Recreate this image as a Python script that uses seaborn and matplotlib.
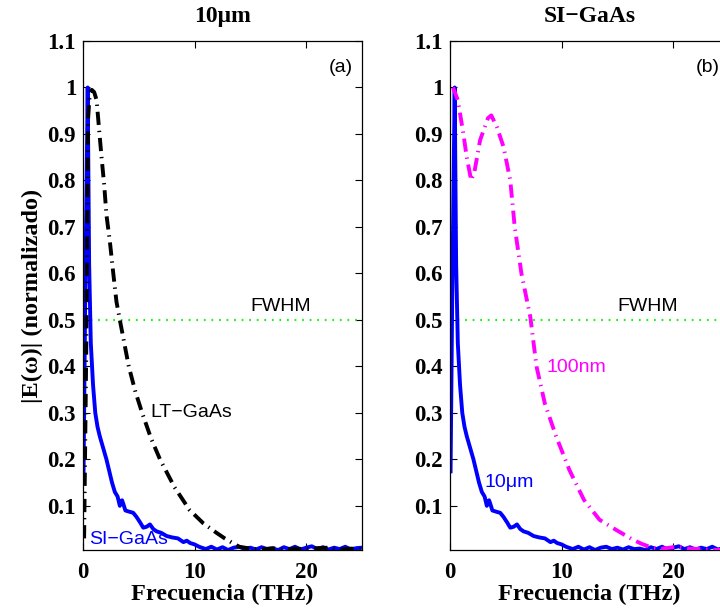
import numpy as np
import pandas as pd
import seaborn as sns
import matplotlib
matplotlib.use("Agg")
import matplotlib.pyplot as plt

# Spectrum of the 10 um SI-GaAs antenna (normalized |E(w)|)
si_freq = [0.05, 0.2, 0.42, 0.55, 0.7, 0.9, 1.1, 1.3, 1.5, 1.8, 2.1, 2.4, 2.6,
           2.85, 3.1, 3.3, 3.5, 3.6, 3.8, 4.2, 4.5, 4.8, 5.1, 5.4, 5.7, 6.0,
           6.3, 6.6, 7.0, 7.5, 8.0, 8.5, 9.0, 9.3, 9.6, 10.0, 10.4, 11.0,
           11.5, 12.0, 12.5, 13.0, 13.5, 14.0, 14.5, 15.0, 15.5, 16.0, 16.5,
           17.0, 17.5, 18.0, 18.5, 19.0, 19.5, 20.0, 20.5, 21.0, 21.5, 22.0,
           22.5, 23.0, 23.5, 24.0, 24.5, 25.0]
si_amp = [0.17, 0.55, 1.0, 0.62, 0.45, 0.36, 0.30, 0.27, 0.25, 0.225, 0.20,
          0.17, 0.15, 0.13, 0.12, 0.10, 0.112, 0.105, 0.09, 0.087, 0.085,
          0.076, 0.065, 0.053, 0.055, 0.060, 0.050, 0.045, 0.042, 0.035,
          0.032, 0.030, 0.022, 0.025, 0.020, 0.017, 0.012, 0.007, 0.012,
          0.006, 0.011, 0.005, 0.010, 0.012, 0.007, 0.010, 0.006, 0.011,
          0.007, 0.008, 0.005, 0.011, 0.007, 0.012, 0.006, 0.010, 0.013,
          0.007, 0.011, 0.006, 0.010, 0.007, 0.012, 0.006, 0.009, 0.010]

# Spectrum of the LT-GaAs antenna
lt_freq = [0.1, 0.3, 0.45, 0.6, 0.78, 1.0, 1.22, 1.43, 1.67, 1.9, 2.1, 2.41,
           2.7, 3.0, 3.3, 3.7, 4.1, 4.7, 5.3, 6.1, 6.9, 8.2, 9.55, 10.8,
           11.96, 12.7, 13.4, 14.0, 15.0, 16.0, 17.0, 18.0, 19.0, 20.0, 21.0,
           22.0, 23.0, 24.0, 25.0]
lt_amp = [0.03, 0.45, 0.93, 0.985, 0.995, 0.99, 0.973, 0.913, 0.848, 0.79,
          0.726, 0.668, 0.603, 0.539, 0.50, 0.45, 0.40, 0.345, 0.30, 0.245,
          0.20, 0.14, 0.091, 0.062, 0.042, 0.03, 0.02, 0.012, 0.008, 0.006,
          0.009, 0.006, 0.008, 0.007, 0.009, 0.010, 0.006, 0.008, 0.007]

# Spectrum of the 100 nm SI-GaAs antenna
nm_freq = [0.27, 0.7, 1.2, 1.5, 1.9, 2.2, 2.7, 3.4, 3.7, 4.2, 4.8, 5.4, 5.8,
           6.4, 7.2, 7.75, 8.5, 9.5, 10.7, 12.0, 13.4, 14.9, 16.4, 17.2, 18.1,
           19.0, 20.0, 20.5, 21.5, 22.5, 23.8, 25.0]
nm_amp = [1.0, 0.973, 0.90, 0.85, 0.80, 0.82, 0.887, 0.934, 0.94, 0.915,
          0.872, 0.80, 0.70, 0.60, 0.506, 0.40, 0.32, 0.25, 0.177, 0.113,
          0.07, 0.048, 0.027, 0.018, 0.01, 0.008, 0.011, 0.012, 0.008, 0.007,
          0.005, 0.006]

fwhm_x = [0, 25]
fwhm_y = [0.5, 0.5]

x_ticks = [0, 10, 20]
y_ticks = [0.1, 0.2, 0.3, 0.4, 0.5, 0.6, 0.7, 0.8, 0.9, 1.0, 1.1]
y_tick_labels = ["0.1", "0.2", "0.3", "0.4", "0.5", "0.6", "0.7", "0.8",
                 "0.9", "1", "1.1"]

sns.set_style("ticks")
plt.rcParams["font.family"] = ["Liberation Serif", "DejaVu Serif"]
plt.rcParams["text.color"] = "black"
plt.rcParams["axes.labelcolor"] = "black"
plt.rcParams["xtick.color"] = "black"
plt.rcParams["ytick.color"] = "black"

fig = plt.figure(figsize=(7.2, 6.11), dpi=100)
ax_a = fig.add_axes([83 / 720, 61 / 611, 279 / 720, 509 / 611])
ax_b = fig.add_axes([450 / 720, 61 / 611, 279 / 720, 509 / 611])

BLUE = "#0000ff"
MAGENTA = "#ff00ff"
GREEN = "#22ee22"
SANS = ["Liberation Sans", "DejaVu Sans"]
dashdot = (3.4, 1.5, 0.35, 1.5)
LW = 2.8


def draw_line(ax, x, y, color, lw, dashes=None, zorder=2):
    df = pd.DataFrame({"f": x, "a": y})
    sns.lineplot(data=df, x="f", y="a", ax=ax, color=color, linewidth=lw,
                 sort=False, estimator=None, zorder=zorder)
    line = ax.lines[-1]
    if dashes is not None:
        line.set_dashes(dashes)
    line.set_solid_capstyle("butt")
    return line


def style_axes(ax):
    ax.set_xlim(0, 25)
    ax.set_ylim(0.005, 1.1)
    ax.set_xticks(x_ticks)
    ax.set_xticklabels([str(t) for t in x_ticks])
    ax.set_yticks(y_ticks)
    ax.set_yticklabels(y_tick_labels)
    ax.tick_params(direction="in", length=5, width=0.8, top=True, right=True,
                   labelsize=16.5)
    ax.tick_params(axis="y", pad=5)
    ax.tick_params(axis="x", pad=9)
    for lab in ax.get_xticklabels() + ax.get_yticklabels():
        lab.set_fontweight("bold")
    for sp in ax.spines.values():
        sp.set_visible(True)
        sp.set_linewidth(0.9)
        sp.set_color("black")
    ax.set_xlabel("Frecuencia (THz)", fontsize=17.5, fontweight="bold",
                  labelpad=0)


# Panel (a): 10 um antennas of both materials
draw_line(ax_a, fwhm_x, fwhm_y, GREEN, 1.6, dashes=(0.8, 2.6), zorder=1)
draw_line(ax_a, si_freq, si_amp, BLUE, LW, zorder=2)
draw_line(ax_a, lt_freq, lt_amp, "black", LW, dashes=dashdot, zorder=3)
style_axes(ax_a)
ax_a.set_ylabel("|E(ω)| (normalizado)", fontsize=17.5, fontweight="bold",
                labelpad=3)
ax_a.set_title("10μm", fontsize=17, fontweight="bold", pad=14)
ax_a.text(24.2, 1.044, "(a)", fontsize=14, family=SANS, ha="right",
          va="center")
ax_a.text(15.0, 0.528, "FWHM", fontsize=14, family=SANS, ha="left",
          va="center")
ax_a.text(6.0, 0.30, "LT\u2212GaAs", fontsize=14, family=SANS, ha="left",
          va="center")
ax_a.text(0.55, 0.028, "SI\u2212GaAs", fontsize=14, family=SANS, ha="left",
          va="center", color=BLUE)

# Panel (b): SI-GaAs antennas of two thicknesses
draw_line(ax_b, fwhm_x, fwhm_y, GREEN, 1.6, dashes=(0.8, 2.6), zorder=1)
draw_line(ax_b, si_freq, si_amp, BLUE, LW, zorder=2)
draw_line(ax_b, nm_freq, nm_amp, MAGENTA, LW, dashes=dashdot, zorder=3)
style_axes(ax_b)
ax_b.set_ylabel("")
ax_b.set_title("SI\u2212GaAs", fontsize=17, fontweight="bold", pad=14)
ax_b.text(24.2, 1.044, "(b)", fontsize=14, family=SANS, ha="right",
          va="center")
ax_b.text(15.0, 0.528, "FWHM", fontsize=14, family=SANS, ha="left",
          va="center")
ax_b.text(8.66, 0.397, "100nm", fontsize=14, family=SANS, ha="left",
          va="center", color=MAGENTA)
ax_b.text(3.1, 0.15, "10μm", fontsize=14, family=SANS, ha="left",
          va="center", color=BLUE)

fig.savefig("out.png", dpi=100)
